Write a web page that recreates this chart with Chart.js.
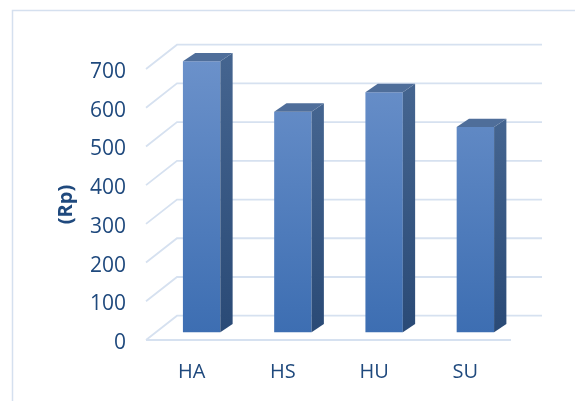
<!DOCTYPE html>
<html>
<head>
<meta charset="utf-8">
<script src="https://cdn.jsdelivr.net/npm/chart.js@4/dist/chart.umd.min.js"></script>
<style>
  html, body { margin: 0; padding: 0; background: #fff; }
  #wrap { width: 575px; height: 401px; position: relative; }
</style>
</head>
<body>
<div id="wrap"><canvas id="chart"></canvas></div>
<script>
// データ
const categories = ['HA', 'HS', 'HU', 'SU']
const values = [700, 570, 620, 530]
const yTicks = [0, 100, 200, 300, 400, 500, 600, 700]
const yTitle = '(Rp)'

// 3D風の奥行き (px)
const WALL_DX = 31, WALL_DY = 24.3     // 奥の壁までのずれ
const BAR_DX = 10, BAR_DY = 7.7        // 棒の前面の位置
const SIDE_DX = 12.3, SIDE_DY = 8.4    // 棒の厚み

const gridColor = '#d6e1f0'
const textColor = '#1f497d'

// 壁・床・外枠を描くプラグイン
const wallPlugin = {
    id: 'walls',
    beforeDraw(chart) {
        const ctx = chart.ctx
        ctx.save()
        ctx.strokeStyle = '#d5e0ef'
        ctx.lineWidth = 1.5
        ctx.strokeRect(12.5, 10.5, 700, 500)
        ctx.restore()
    },
    beforeDatasetsDraw(chart) {
        const { ctx, chartArea: a, scales: { y } } = chart
        ctx.save()
        ctx.strokeStyle = gridColor
        ctx.lineWidth = 1.8
        yTicks.forEach(v => {
            const py = y.getPixelForValue(v)
            ctx.beginPath()
            ctx.moveTo(a.left, py)
            ctx.lineTo(a.left + WALL_DX, py - WALL_DY)
            ctx.lineTo(a.right + WALL_DX, py - WALL_DY)
            ctx.stroke()
        })
        // 床の手前の線
        const y0 = y.getPixelForValue(0)
        ctx.beginPath()
        ctx.moveTo(a.left, y0)
        ctx.lineTo(a.right, y0)
        ctx.stroke()
        ctx.restore()

        // 棒は少し奥にずらして描く
        ctx.save()
        ctx.translate(BAR_DX, -BAR_DY)
    },
    afterDatasetsDraw(chart) {
        const ctx = chart.ctx
        const meta = chart.getDatasetMeta(0)
        meta.data.forEach(bar => {
            const { x, y, base, width } = bar.getProps(['x', 'y', 'base', 'width'], true)
            const l = x - width / 2, r = x + width / 2
            // 側面
            const side = ctx.createLinearGradient(0, y, 0, base)
            side.addColorStop(0, '#44648f')
            side.addColorStop(1, '#2a4a76')
            ctx.fillStyle = side
            ctx.beginPath()
            ctx.moveTo(r, y)
            ctx.lineTo(r + SIDE_DX, y - SIDE_DY)
            ctx.lineTo(r + SIDE_DX, base - SIDE_DY)
            ctx.lineTo(r, base)
            ctx.closePath()
            ctx.fill()
            // 上面
            ctx.fillStyle = '#4f6e9a'
            ctx.beginPath()
            ctx.moveTo(l, y)
            ctx.lineTo(l + SIDE_DX, y - SIDE_DY)
            ctx.lineTo(r + SIDE_DX, y - SIDE_DY)
            ctx.lineTo(r, y)
            ctx.closePath()
            ctx.fill()
        })
        ctx.restore()
    }
}

const ctx = document.getElementById('chart').getContext('2d')
new Chart(ctx, {
    type: 'bar',
    data: {
        labels: categories,
        datasets: [{
            data: values,
            clip: false,
            backgroundColor: (c) => {
                const a = c.chart.chartArea
                if (!a) return '#4f81bd'
                const g = c.chart.ctx.createLinearGradient(0, a.top, 0, a.bottom)
                g.addColorStop(0, '#6b91ca')
                g.addColorStop(1, '#3d6eb2')
                return g
            },
            borderWidth: 0,
            categoryPercentage: 1,
            barPercentage: 0.41
        }]
    },
    options: {
        responsive: true,
        maintainAspectRatio: false,
        animation: false,
        layout: { padding: { left: 0, top: 69, right: 64, bottom: 0 } },
        plugins: {
            legend: { display: false },
            tooltip: { enabled: false }
        },
        scales: {
            x: {
                grid: { display: false, drawTicks: false },
                border: { display: false },
                ticks: {
                    color: textColor,
                    font: { family: 'Open Sans', size: 20 },
                    padding: 20,
                    maxRotation: 0
                },
                afterFit(scale) { scale.height = 61 }
            },
            y: {
                min: 0,
                max: 700,
                grid: { display: false, drawTicks: false },
                border: { display: false },
                ticks: {
                    stepSize: 100,
                    color: textColor,
                    font: { family: 'Open Sans', size: 21 },
                    padding: 20,
                    labelOffset: 3
                },
                title: {
                    display: true,
                    text: yTitle,
                    color: textColor,
                    font: { family: 'Open Sans', size: 20, weight: 'bold' },
                    padding: { top: 54, bottom: 0 }
                },
                afterFit(scale) { scale.width = 146 }
            }
        }
    },
    plugins: [wallPlugin]
})
</script>
</body>
</html>
